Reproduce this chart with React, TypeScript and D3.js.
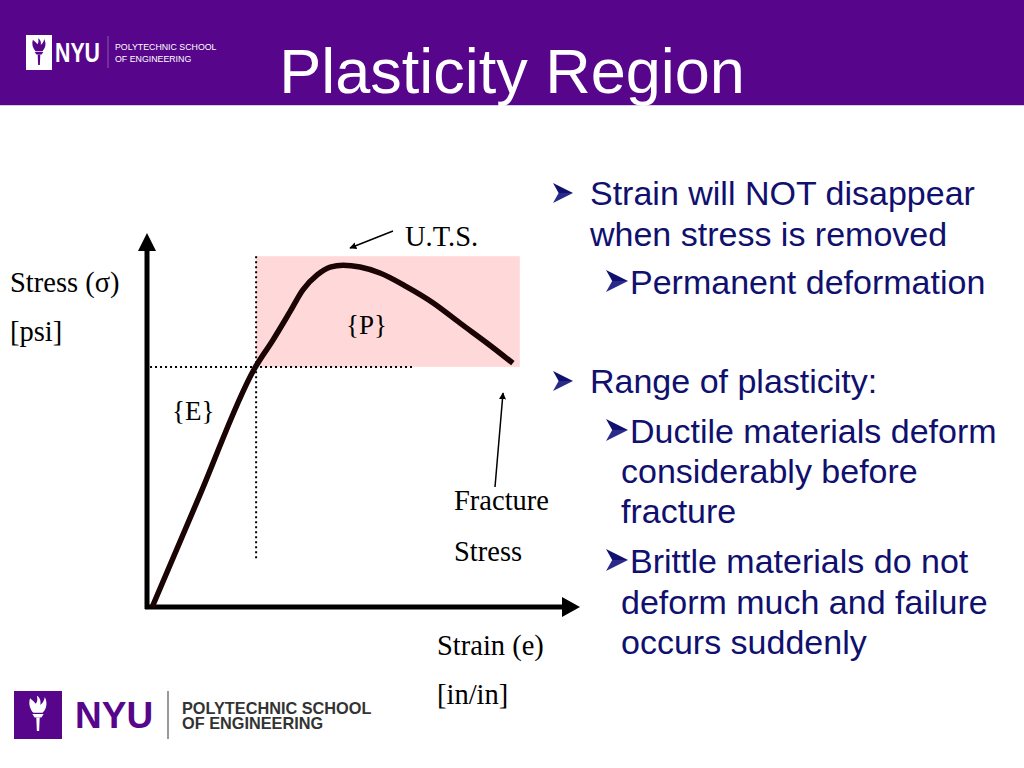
import React from 'react';
import * as d3 from 'd3';

// stress-strain curve (arbitrary units 0..100)
const strain = [1.2, 12.2, 24.9, 29.1, 33.0, 36.0, 39.3, 42.3, 45.3, 49.2, 53.8, 60.0, 66.1, 72.3, 78.5, 84.5];
const stress = [0, 29.9, 63.9, 71.4, 78.9, 84.8, 88.8, 90.9, 91.4, 90.9, 89.3, 85.6, 81.3, 75.9, 70.6, 65.2];

// plastic region box + yield guides
const yieldStrain = 25.2;
const yieldStress = 64.2;
const plasticEnd = 86.1;
const plasticTop = 93.8;
const guideBottom = 12.6;
const guideRight = 61.4;

const bulletLines = [
  { level: 1, arrow: true, text: 'Strain will NOT disappear' },
  { level: 1, arrow: false, text: 'when stress is removed' },
  { level: 2, arrow: true, text: 'Permanent deformation' },
  { level: 1, arrow: true, text: 'Range of plasticity:' },
  { level: 2, arrow: true, text: 'Ductile materials deform' },
  { level: 2, arrow: false, text: 'considerably before' },
  { level: 2, arrow: false, text: 'fracture' },
  { level: 2, arrow: true, text: 'Brittle materials do not' },
  { level: 2, arrow: false, text: 'deform much and failure' },
  { level: 2, arrow: false, text: 'occurs suddenly' },
];
const bulletBaselines = [205, 246, 294, 393, 443, 483, 523, 573, 614, 654];

const PURPLE = '#57068c';
const NAVY = '#10106e';
const SERIF = '"Liberation Serif", "Times New Roman", serif';
const SANS = '"Liberation Sans", Arial, sans-serif';

const x = d3.scaleLinear().domain([0, 100]).range([147, 580]);
const y = d3.scaleLinear().domain([0, 100]).range([607, 233]);

const pts: [number, number][] = strain.map((s, i) => [s, stress[i]]);
const curve = d3
  .line<[number, number]>()
  .x((d) => x(d[0]))
  .y((d) => y(d[1]))
  .curve(d3.curveMonotoneX);

function Bullet({ bx, by, s }: { bx: number; by: number; s: number }) {
  // wingdings-like arrowhead
  const h = s;
  const top = `M${bx},${by - h} L${bx + s},${by - h / 2} L${bx + s * 0.28},${by - h / 2} Z`;
  const bot = `M${bx},${by} L${bx + s},${by - h / 2} L${bx + s * 0.28},${by - h / 2} Z`;
  return (
    <g>
      <path d={top} fill={NAVY} />
      <path d={bot} fill="#2a2a8a" />
    </g>
  );
}

function Torch({ cx, cy, s, color }: { cx: number; cy: number; s: number; color: string }) {
  // rough torch glyph, s = height
  const k = s / 30;
  return (
    <g transform={`translate(${cx},${cy}) scale(${k})`} fill={color}>
      <path d="M-7,-14 C-9,-8 -6,-3 -4,-1 L4,-1 C7,-4 9,-9 6,-15 C5,-10 3,-9 2,-8 C3,-12 1,-15 -1,-16 C0,-12 -1,-10 -2,-9 C-3,-11 -5,-12 -7,-14 Z" />
      <path d="M-5,0 L5,0 L3,3 L-3,3 Z" />
      <path d="M-1.5,3 L1.5,3 L1,15 L-1,15 Z" />
    </g>
  );
}

export default function App() {
  const bulletX1 = 553;
  const textX1 = 590;
  const bulletX2 = 606;
  const textX2 = 630;
  const contX2 = 621;

  return (
    <svg
      width={1024}
      height={768}
      style={{ position: 'absolute', left: 0, top: 0, display: 'block', background: '#fff' }}
    >
      <defs>
        <marker id="ah" viewBox="0 0 10 10" refX="9" refY="5" markerWidth="7" markerHeight="7" orient="auto-start-reverse" markerUnits="userSpaceOnUse">
          <path d="M0,0 L10,5 L0,10 Z" fill="#000" />
        </marker>
      </defs>

      {/* header band */}
      <rect x={0} y={0} width={1024} height={105} fill={PURPLE} />
      <line x1={0} x2={1024} y1={105.5} y2={105.5} stroke="#d8cce2" strokeWidth={1} />
      <text x={512} y={93} textAnchor="middle" fill="#fff" fontFamily={SANS} fontSize={63}>
        Plasticity Region
      </text>

      {/* header logo */}
      <rect x={26} y={35} width={26} height={35} fill="#fff" />
      <Torch cx={39} cy={52} s={26} color={PURPLE} />
      <text x={55} y={62} fill="#fff" fontFamily={SANS} fontWeight="bold" fontSize={27} textLength={45} lengthAdjust="spacingAndGlyphs">
        NYU
      </text>
      <line x1={108} x2={108} y1={36} y2={68} stroke="#8a5aa8" strokeWidth={1} />
      <text x={115} y={50} fill="#fff" fontFamily={SANS} fontSize={8.8}>POLYTECHNIC SCHOOL</text>
      <text x={115} y={62} fill="#fff" fontFamily={SANS} fontSize={8.8}>OF ENGINEERING</text>

      {/* plastic region */}
      <rect
        x={x(yieldStrain)}
        y={y(plasticTop)}
        width={x(plasticEnd) - x(yieldStrain)}
        height={y(yieldStress) - y(plasticTop)}
        fill="#ffd9d9"
      />

      {/* yield guides */}
      <line x1={x(yieldStrain)} x2={x(yieldStrain)} y1={y(plasticTop)} y2={y(guideBottom)} stroke="#000" strokeWidth={2} strokeDasharray="2,3" />
      <line x1={x(0.7)} x2={x(guideRight)} y1={y(yieldStress)} y2={y(yieldStress)} stroke="#000" strokeWidth={2} strokeDasharray="2,3" />

      {/* axes */}
      <line x1={x(0)} x2={x(0)} y1={y(0) + 2} y2={y(100) + 16} stroke="#000" strokeWidth={5} />
      <path d={`M${x(0) - 9},${y(100) + 18} L${x(0)},${y(100)} L${x(0) + 9},${y(100) + 18} Z`} fill="#000" />
      <line x1={x(0) - 2} x2={x(100) - 16} y1={y(0)} y2={y(0)} stroke="#000" strokeWidth={5} />
      <path d={`M${x(100) - 18},${y(0) - 10} L${x(100)},${y(0)} L${x(100) - 18},${y(0) + 10} Z`} fill="#000" />

      {/* curve */}
      <path d={curve(pts) || ''} fill="none" stroke="#1a0404" strokeWidth={5.5} strokeLinejoin="round" />

      {/* annotations */}
      <line x1={393} y1={231} x2={350} y2={248} stroke="#000" strokeWidth={1.5} markerEnd="url(#ah)" />
      <line x1={495} y1={487} x2={503} y2={393} stroke="#000" strokeWidth={1.5} markerEnd="url(#ah)" />

      <g fontFamily={SERIF} fill="#000" fontSize={28.5}>
        <text x={405} y={246}>U.T.S.</text>
        <text x={346} y={334} fontSize={27}>{'{P}'}</text>
        <text x={172} y={420} fontSize={27}>{'{E}'}</text>
        <text x={454} y={510}>Fracture</text>
        <text x={454} y={561}>Stress</text>
        <text x={10} y={292}>Stress (σ)</text>
        <text x={10} y={341}>[psi]</text>
        <text x={437} y={655}>Strain (e)</text>
        <text x={437} y={704}>[in/in]</text>
      </g>

      {/* bullet text */}
      <g fontFamily={SANS} fill={NAVY} fontSize={34}>
        {bulletLines.map((l, i) => {
          const by = bulletBaselines[i];
          const tx = l.level === 1 ? textX1 : l.arrow ? textX2 : contX2;
          return (
            <g key={i}>
              {l.arrow && (
                <Bullet bx={l.level === 1 ? bulletX1 : bulletX2} by={by - 2} s={l.level === 1 ? 20 : 22} />
              )}
              <text x={tx} y={by}>{l.text}</text>
            </g>
          );
        })}
      </g>

      {/* footer logo */}
      <rect x={14} y={691} width={48} height={48} fill={PURPLE} />
      <Torch cx={38} cy={714} s={34} color="#fff" />
      <text x={75} y={728} fill={PURPLE} fontFamily={SANS} fontWeight="bold" fontSize={37}>NYU</text>
      <line x1={168} x2={168} y1={691} y2={739} stroke="#777" strokeWidth={1.5} />
      <text x={182} y={714} fill="#333" fontFamily={SANS} fontWeight="bold" fontSize={16.3}>POLYTECHNIC SCHOOL</text>
      <text x={182} y={729} fill="#333" fontFamily={SANS} fontWeight="bold" fontSize={16.3}>OF ENGINEERING</text>
    </svg>
  );
}
